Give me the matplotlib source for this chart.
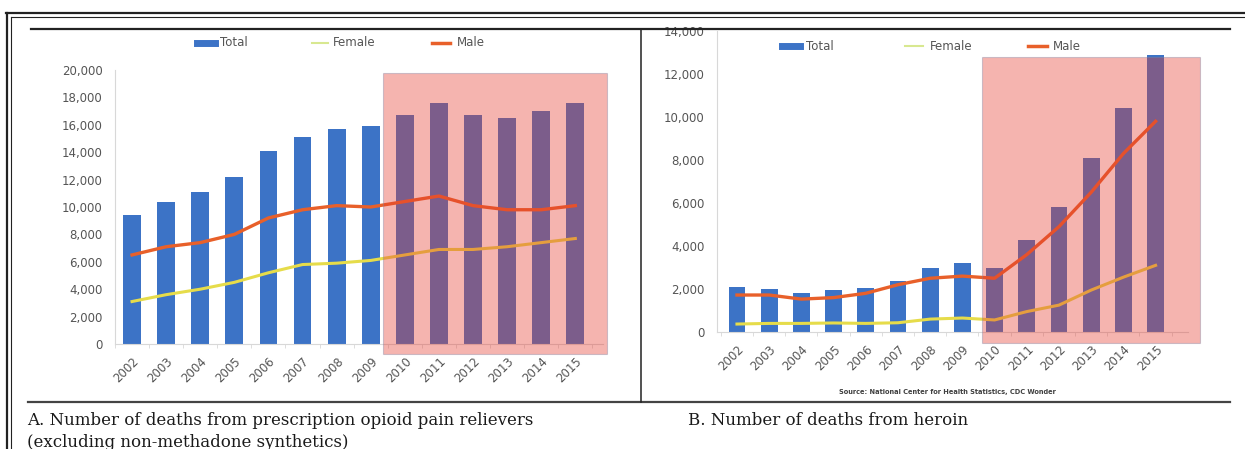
import matplotlib.pyplot as plt
from matplotlib.lines import Line2D
from matplotlib.patches import Rectangle

years = [str(y) for y in range(2002, 2016)]

# A. prescription opioid pain relievers
rx_total = [9400, 10400, 11100, 12200, 14100, 15100, 15700, 15900, 16700, 17600, 16700, 16500, 17000, 17600]
rx_male = [6500, 7100, 7400, 8000, 9200, 9800, 10100, 10000, 10400, 10800, 10100, 9800, 9800, 10100]
rx_female = [3100, 3600, 4000, 4500, 5200, 5800, 5900, 6100, 6500, 6900, 6900, 7100, 7400, 7700]

# B. heroin
her_total = [2070, 2000, 1800, 1950, 2050, 2370, 2980, 3200, 3000, 4300, 5800, 8100, 10400, 12900]
her_male = [1720, 1720, 1530, 1600, 1800, 2200, 2500, 2600, 2500, 3600, 4900, 6500, 8300, 9800]
her_female = [370, 400, 400, 420, 400, 430, 600, 650, 560, 950, 1250, 1950, 2550, 3100]

W, H = 1245, 449
BLUE = '#3c73c6'
MALE = '#e8602a'
FEMALE = '#e6dc4a'
BOX = '#e53a2d'
TXT = '#555555'


def ax_rect(x0, x1, ytop, ybot):
    return [x0 / W, 1 - ybot / H, (x1 - x0) / W, (ybot - ytop) / H]


def draw_panel(ax, total, male, female, ymax, step, xlim, box):
    x = list(range(len(years)))
    ax.bar(x, total, width=0.52, color=BLUE, zorder=2)
    ax.plot(x, female, color=FEMALE, lw=2.2, zorder=3)
    ax.plot(x, male, color=MALE, lw=2.4, zorder=3)
    ax.add_patch(Rectangle((box[0], box[2]), box[1] - box[0], box[3] - box[2],
                           facecolor=BOX, alpha=0.38, edgecolor='#8080a0',
                           lw=0.8, zorder=5, clip_on=False))
    ax.set_xlim(*xlim)
    ax.set_ylim(0, ymax)
    ax.set_yticks(range(0, ymax + 1, step))
    ax.set_yticklabels([f'{v:,}' for v in range(0, ymax + 1, step)])
    ax.set_xticks(x)
    ax.set_xticklabels(years, rotation=45, ha='right', va='top', rotation_mode='anchor')
    ax.set_xticks([i + 0.5 for i in range(-1, len(years))], minor=True)
    ax.tick_params(axis='x', which='major', length=0, pad=8, labelsize=8.5, labelcolor=TXT)
    ax.tick_params(axis='x', which='minor', length=3, color='#d8d8d8')
    ax.tick_params(axis='y', length=0, pad=9, labelsize=8.5, labelcolor=TXT)
    for s in ['top', 'right']:
        ax.spines[s].set_visible(False)
    ax.spines['left'].set_color('#d8d8d8')
    ax.spines['bottom'].set_color('#d8d8d8')
    ax.patch.set_alpha(0)


fig = plt.figure(figsize=(W / 100, H / 100), dpi=100)

ax1 = fig.add_axes(ax_rect(115, 602.6, 70, 344))
draw_panel(ax1, rx_total, rx_male, rx_female, 20000, 2000, (-0.5, 13.8),
           (7.36, 13.93, -700, 19800))

ax2 = fig.add_axes(ax_rect(717, 1187.8, 31, 332))
draw_panel(ax2, her_total, her_male, her_female, 14000, 2000, (-0.62, 14.0),
           (7.61, 14.38, -500, 12800))


def legend_row(y, xs):
    fy = 1 - y / H
    items = [('Total', BLUE, 5), ('Female', '#d8e890', 1.5), ('Male', MALE, 2.5)]
    for (label, c, lw), (m0, m1, t0) in zip(items, xs):
        fig.lines.append(Line2D([m0 / W, m1 / W], [fy, fy], color=c, lw=lw,
                                transform=fig.transFigure))
        fig.text(t0 / W, fy, label, fontsize=8.5, color=TXT, va='center', ha='left')


legend_row(43, [(197, 215, 220), (312, 328, 333), (432, 450, 457)])
legend_row(46, [(782, 800, 806), (905, 923, 930), (1028, 1047, 1053)])

fig.text(947 / W, 1 - 392 / H, 'Source: National Center for Health Statistics, CDC Wonder',
         fontsize=4.8, fontweight='bold', color='#404040', ha='center', va='center')


def hline(y, x0, x1, lw, c='#222222'):
    fig.lines.append(Line2D([x0 / W, x1 / W], [1 - y / H, 1 - y / H], color=c, lw=lw,
                            transform=fig.transFigure))


def vline(x, y0, y1, lw, c='#222222'):
    fig.lines.append(Line2D([x / W, x / W], [1 - y0 / H, 1 - y1 / H], color=c, lw=lw,
                            transform=fig.transFigure))


# outer double border
hline(13, 6, W, 1.6)
hline(16.5, 11, W, 0.8)
vline(7, 13, H, 1.6)
vline(11, 16.5, H, 0.8)
# inner frame around the two charts
hline(28.5, 31, 1230, 1.6)
hline(402, 28, 1230, 1.6, '#444444')
vline(641, 28.5, 402, 1.1)

cap = dict(fontsize=12, family='DejaVu Serif', color='#1a1a1a', va='baseline', ha='left')
fig.text(27 / W, 1 - 425 / H, 'A. Number of deaths from prescription opioid pain relievers', **cap)
fig.text(27 / W, 1 - 447 / H, '(excluding non-methadone synthetics)', **cap)
fig.text(688 / W, 1 - 425 / H, 'B. Number of deaths from heroin', **cap)

fig.savefig('out.png', dpi=100)
